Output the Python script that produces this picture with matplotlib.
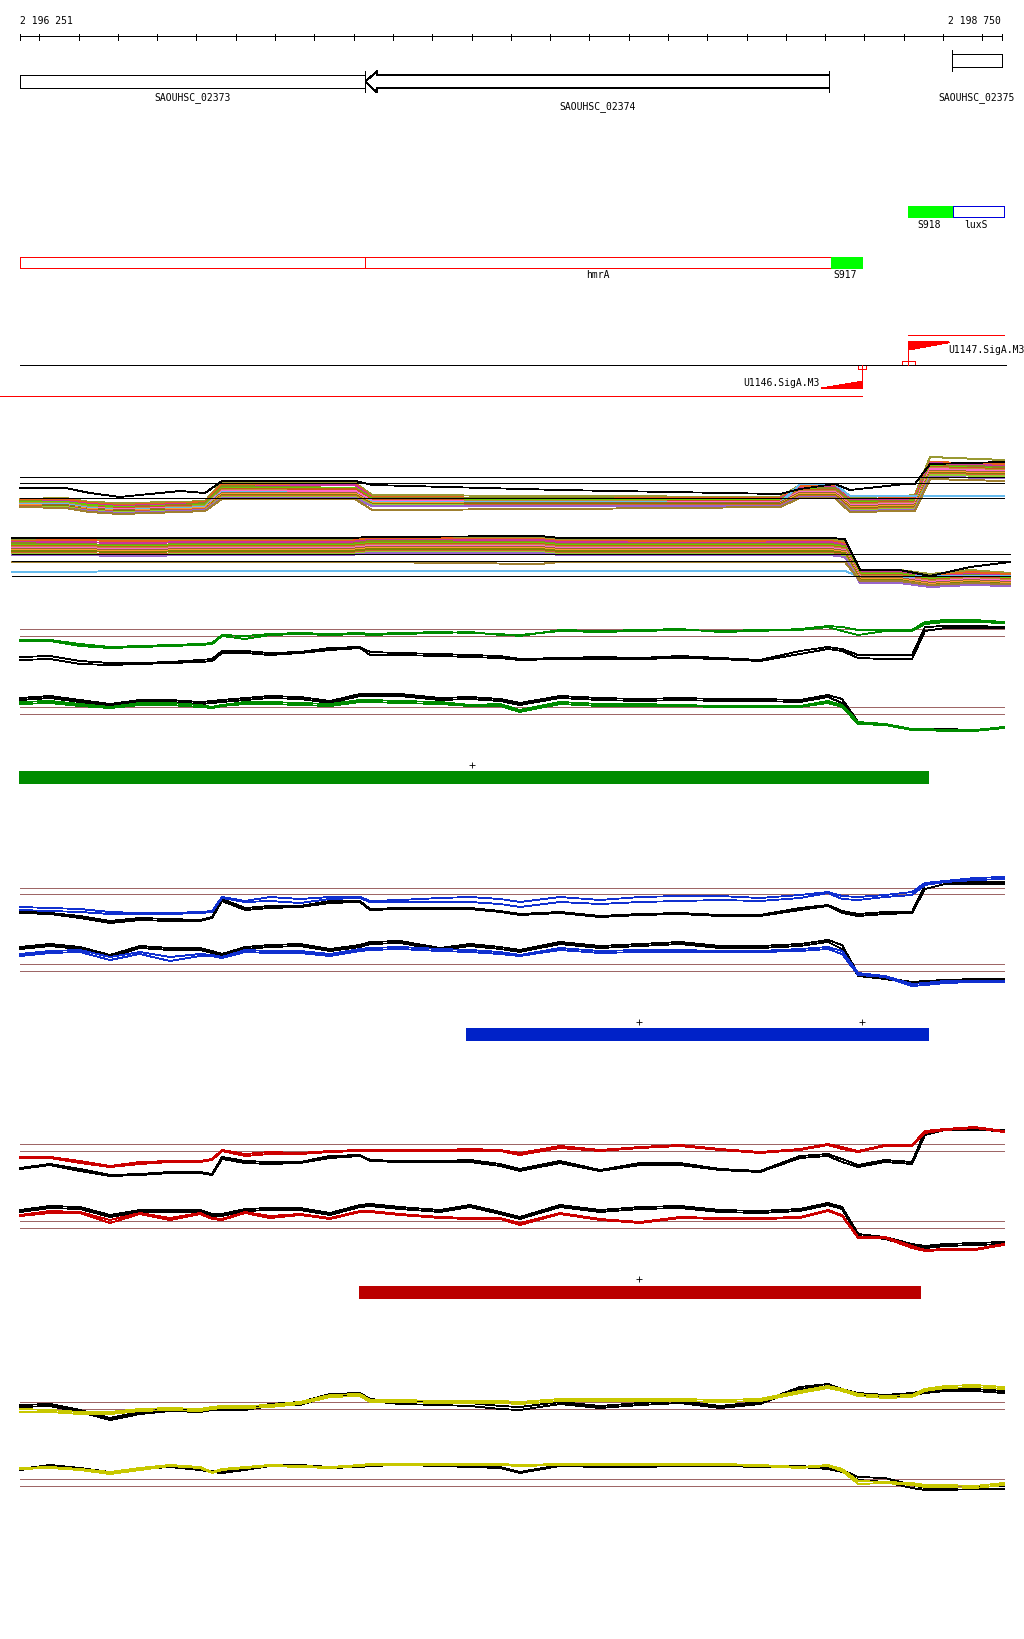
import matplotlib
matplotlib.use("Agg")
import matplotlib.pyplot as plt
from matplotlib.patches import Rectangle, Polygon

# ---------------- data ----------------
START, END = 2196251, 2198750
ruler_labels = ["2 196 251", "2 198 750"]
tick_step = 100

gene_names = ["SAOUHSC_02373", "SAOUHSC_02374", "SAOUHSC_02375"]
gene_starts = [2196251, 2197130, 2198623]
gene_ends = [2197130, 2198311, 2198750]

feat_names = ["S918", "luxS", "hmrA", "S917"]
feat_starts = [2198511, 2198626, 2196251, 2198314]
feat_ends = [2198626, 2198754, 2198314, 2198394]
hmra_split = 2197130

prom_names = ["U1147.SigA.M3", "U1146.SigA.M3"]
prom_tss = [2198512, 2198393]
prom_strand = ["+", "-"]
prom_box_lo = [2198496, 2198384]
prom_box_hi = [2198529, 2198403]
fwd_tx = (2198511, 2198754)
rev_tx = (2196200, 2198394)

bar_starts = [2196251, 2197389, 2197116]
bar_ends = [2198562, 2198562, 2198541]
bar_plus = [[2197401], [2197826, 2198394], [2197826]]

probe_offsets = [0, 76, 153, 229, 305, 382, 458, 489, 514, 573, 636, 713, 789, 865, 891,
                 967, 1069, 1145, 1222, 1272, 1374, 1476, 1578, 1680, 1781, 1883, 1985,
                 2056, 2092, 2133, 2201, 2270, 2303, 2354, 2430, 2504]

g1_green_a = [29,29,25,22,23,24,25,26,34,33,35,36,35,36,35,36,37,36,35,33,39,38,39,40,37,38,40,43,42,39,39,39,47,49,49,47]
g1_green_b = [28,28,23,21,22,23,24,25,33,30,34,35,34,35,34,35,36,37,34,34,38,37,38,39,38,39,39,42,38,34,38,38,45,47,47,46]
g1_black_a = [12,13,8,6,6,7,9,10,18,18,16,17,21,22,17,16,15,14,13,10,11,12,11,13,11,9,18,22,20,14,14,14,42,43,43,42]
g1_black_b = [9,10,5,4,5,6,7,8,16,16,14,16,19,21,14,14,13,12,11,9,10,10,10,11,10,8,15,20,18,11,10,10,38,41,41,41]

g2_black_a = [36,38,34,30,34,34,32,33,34,36,38,37,33,40,40,40,36,37,35,31,38,36,35,36,35,35,34,39,35,12,10,5,5,5,4,7]
g2_black_b = [34,36,32,28,32,32,30,31,32,34,36,35,31,38,38,38,34,35,33,29,36,34,33,34,33,33,32,37,31,11,9,4,4,4,3,6]
g2_green_a = [32,33,30,27,31,31,29,27,29,32,32,31,30,34,34,33,32,29,30,24,32,30,30,29,28,28,28,33,29,12,10,5,5,4,4,7]
g2_green_b = [30,31,28,26,29,29,27,26,28,30,30,29,28,32,32,31,30,28,28,22,30,28,28,28,27,27,27,31,27,10,9,4,4,3,3,6]

b1_blue_a = [22,21,20,17,16,16,17,18,32,28,32,30,32,32,28,29,31,32,30,27,32,29,32,33,33,31,34,37,33,32,34,37,46,48,51,52]
b1_blue_b = [19,18,17,15,15,15,16,17,31,27,28,26,30,31,27,27,27,27,25,22,27,25,27,28,29,28,31,36,30,29,32,34,44,47,49,50]
b1_black_a = [18,16,13,8,11,10,9,12,30,21,23,23,28,28,20,21,21,21,18,15,17,13,15,16,14,14,21,24,18,15,17,17,44,47,47,47]
b1_black_b = [16,15,11,6,9,8,8,11,28,19,21,22,26,27,19,20,20,20,17,14,16,12,14,15,13,13,19,23,16,13,15,16,40,45,45,45]

b2_black_a = [42,45,42,34,43,41,41,38,35,42,44,45,40,44,47,48,41,45,42,39,47,43,45,47,43,43,45,49,44,15,11,7,8,9,10,10]
b2_black_b = [40,43,40,32,41,39,39,36,33,40,42,43,38,42,45,46,39,43,40,37,45,41,43,45,41,41,43,47,40,13,10,6,7,8,8,9]
b2_blue_a = [35,38,39,32,37,32,35,34,32,39,38,38,35,40,41,42,40,39,37,34,41,38,39,39,38,38,40,42,38,16,13,5,6,8,8,8]
b2_blue_b = [33,36,37,29,35,28,33,33,31,37,36,36,33,38,39,40,38,37,35,33,39,36,37,37,37,37,38,40,35,14,12,3,4,6,7,7]

r1_red_a = [22,22,18,13,17,18,18,20,29,25,27,26,28,29,29,29,29,30,29,26,33,29,32,34,30,27,30,35,32,28,34,34,48,50,52,48]
r1_red_b = [21,21,16,12,15,17,17,19,28,23,25,25,27,28,28,28,28,28,28,24,31,28,31,33,29,26,29,34,30,27,33,33,46,49,51,47]
r1_black_a = [11,15,10,4,5,7,7,5,22,18,17,17,23,24,19,18,18,19,15,10,18,9,16,16,10,8,23,25,20,14,19,17,48,50,50,49]
r1_black_b = [10,14,8,3,4,6,6,4,20,16,15,16,21,23,18,17,17,17,13,8,16,8,14,14,9,7,21,23,17,12,17,15,44,49,49,48]

r2_black_a = [44,48,47,39,44,44,44,40,40,45,46,46,41,49,50,47,44,49,42,37,49,44,47,48,44,43,45,51,47,20,17,10,8,10,11,12]
r2_black_b = [42,46,45,37,42,42,42,38,38,43,44,44,39,47,48,45,42,47,40,35,47,42,45,46,42,41,43,49,45,18,15,8,6,8,9,10]
r2_red_a = [39,43,42,34,41,36,41,36,35,42,38,40,36,43,43,40,37,36,36,31,41,35,32,37,36,36,37,44,39,17,17,8,4,5,5,10]
r2_red_b = [38,41,41,31,40,34,40,35,34,41,36,39,35,42,42,39,36,35,35,29,40,34,31,36,35,35,36,43,38,16,16,6,3,4,4,9]

y1_black_a = [19,20,14,6,12,15,14,16,16,16,20,22,30,31,25,22,22,21,18,17,22,18,21,23,18,22,37,40,35,31,29,31,33,35,35,33]
y1_black_b = [17,18,12,4,10,13,12,14,14,14,18,19,28,29,23,20,19,18,15,14,20,16,19,21,16,20,35,38,33,29,27,29,31,33,33,31]
y1_yellow_a = [15,14,12,12,15,16,15,17,18,18,19,22,29,30,24,24,23,23,23,22,25,25,25,25,24,25,33,38,35,30,28,29,35,38,39,37]
y1_yellow_b = [12,12,10,10,13,14,13,15,16,16,17,20,27,28,22,22,21,21,21,20,23,23,23,23,22,23,31,36,33,28,26,27,33,36,37,35]

y2_black_a = [25,29,26,22,26,28,25,23,22,25,29,29,27,28,29,30,29,28,27,22,29,28,28,29,29,28,28,26,24,17,16,9,6,6,7,8]
y2_black_b = [24,28,25,21,25,27,24,22,21,24,28,28,26,27,28,29,28,27,26,21,28,27,27,28,28,27,27,25,22,14,12,6,4,4,5,5]
y2_yellow_a = [26,27,25,22,26,29,27,22,25,27,29,28,27,29,30,30,30,30,30,29,30,30,30,30,30,29,27,29,25,13,12,11,9,9,8,11]
y2_yellow_b = [25,26,24,20,24,28,26,21,24,26,28,27,26,28,29,29,29,29,29,28,29,29,29,29,29,28,26,28,23,10,11,9,7,7,6,9]

thr_g1, thr_g2 = [39.7, 32.7], [26.7, 19.7]
thr_b1, thr_b2 = [41.3, 34.7], [24.7, 17.7]
thr_r1, thr_r2 = [34.7, 27.7], [32.7, 25.7]
thr_y1, thr_y2 = [21.7, 14.7], [14.7, 7.7]

# all-conditions panel (upper / lower strand)
bandA_offsets = [0, 115, 178, 254, 407, 471, 514, 853, 896, 1374, 1934, 1985, 2074, 2112, 2252, 2277, 2316, 2504]
bandA_series = [
    [20,21,17,16,17,18,37,36,24,23,22,34,35,22,23,24,62,59],
    [19,20,16,14,16,17,35,35,22,21,21,33,33,20,21,22,57,55],
    [18,18,15,13,15,15,33,34,21,20,20,31,32,19,19,20,56,53],
    [18,17,13,12,14,16,33,31,21,21,19,30,31,18,18,19,54,52],
    [17,17,14,12,13,14,31,31,20,19,19,30,29,17,17,18,53,50],
    [16,16,12,11,13,13,30,30,19,18,18,29,29,16,17,17,52,50],
    [16,16,12,10,12,13,29,28,18,18,17,28,28,15,16,16,51,49],
    [15,15,11,10,11,12,28,28,18,17,17,27,27,14,15,15,50,48],
    [15,15,11,9,11,12,27,26,17,17,16,35,35,23,23,23,23,23],
    [14,14,10,9,10,11,26,26,16,16,16,26,26,13,14,14,48,47],
    [14,13,10,8,10,11,25,25,16,15,15,25,25,12,13,13,47,46],
    [13,13,9,8,9,10,24,24,15,15,15,24,24,11,12,12,46,45],
    [13,12,9,7,9,10,23,23,14,14,14,23,23,10,11,11,45,44],
    [12,12,8,7,8,9,22,22,14,13,13,22,22,9,10,10,44,43],
    [12,11,8,6,8,9,21,21,13,13,13,22,22,8,9,9,42,41],
    [12,11,7,5,7,8,20,20,9,10,12,21,21,7,8,8,40,38],
]
bandA_black = [31,31,26,22,28,26,38,38,34,29,25,30,35,29,35,35,55,57]
bandA_thr = [42, 36, 21]

bandB_offsets = [-20, 102, 293, 458, 840, 891, 1323, 1374, 1730, 2061, 2099, 2138, 2239, 2316, 2418, 2519]
bandB_series = [
    [52,52,51,52,52,54,54,52,52,52,50,21,21,17,21,18],
    [50,51,50,50,50,53,52,50,50,50,48,20,20,15,19,17],
    [49,49,48,49,49,51,51,49,48,49,46,19,19,14,17,15],
    [48,47,46,47,47,50,49,47,47,47,45,18,18,13,16,14],
    [46,46,45,46,46,48,48,46,46,46,44,17,17,12,15,13],
    [45,45,44,45,45,47,47,45,45,45,43,16,16,11,14,12],
    [44,44,43,44,44,46,46,44,44,44,42,15,15,10,13,11],
    [43,43,42,43,43,45,45,43,43,43,41,14,14,9,12,10],
    [19,19,20,20,20,20,20,20,20,20,20,14,14,15,15,15],
    [42,42,41,42,42,44,44,42,42,42,40,13,13,8,11,9],
    [41,41,40,41,41,43,43,41,41,41,39,12,12,7,10,8],
    [40,40,39,40,40,42,42,40,40,40,38,11,11,6,9,7],
    [38,38,37,38,38,40,40,38,38,38,36,10,10,5,8,6],
    [37,37,36,37,37,39,39,37,37,37,35,9,9,5,7,6],
    [36,36,35,36,36,38,38,36,36,36,34,8,8,4,6,5],
    [29,29,29,29,29,29,27,29,29,29,29,10,10,6,8,7],
]
bandB_black = [53,53,53,53,53,54,55,53,53,53,52,21,21,15,24,29]
bandB_thr = [37, 30, 15]

# ---------------- styles / layout ----------------
plt.rcParams["lines.antialiased"] = False
plt.rcParams["patch.antialiased"] = False
W, H = 1024, 1640
PX0, PX1 = 20, 1002
BPP = (END - START) / (PX1 - PX0)
XL = START - PX0 * BPP
XR = START + (W - PX0) * BPP
FONT = dict(family="DejaVu Sans Mono", fontsize=7, color="black")
band_colors = ["#999933", "#E8601C", "#CC3399", "#8A8A20", "#66CC00", "#CC5522",
               "#C09040", "#FF66CC", "#66BBEE", "#996633", "#FF9933", "#808000",
               "#D06030", "#99CC33", "#9966CC", "#A08030"]
THR_COLOR = "#9E6666"
LW = 0.6

fig = plt.figure(figsize=(W / 100, H / 100), dpi=100)
ann = fig.add_axes([0, 0, 1, 1])
ann.set_xlim(XL, XR)
ann.set_ylim(H, 0)
ann.axis("off")

# ruler
ann.hlines(37, START, END, color="black", lw=LW)
ticks = [START] + list(range((START // tick_step + 1) * tick_step, END, tick_step)) + [END]
ann.vlines(ticks, 34.5, 40.5, color="black", lw=LW)
ann.text(START, 20.5, ruler_labels[0], ha="left", va="center", **FONT)
ann.text(END - 1 * BPP, 20.5, ruler_labels[1], ha="right", va="center", **FONT)

# genes
s0, e0 = gene_starts[0], gene_ends[0]
ann.add_patch(Rectangle((s0, 76.3), e0 - s0, 13, fill=False, ec="black", lw=LW))
s1, e1 = gene_starts[1], gene_ends[1]
head = 11.5 * BPP
ann.add_patch(Polygon([(s1, 82.8), (s1 + head, 72), (s1 + head, 76.3), (e1, 76.3),
                       (e1, 89.3), (s1 + head, 89.3), (s1 + head, 93.3)],
                      closed=True, fill=False, ec="black", lw=LW))
ann.vlines([s1, e1], 72, 93.3, color="black", lw=LW)
s2, e2 = gene_starts[2], gene_ends[2]
ann.add_patch(Rectangle((s2, 55.3), e2 - s2, 13, fill=False, ec="black", lw=LW))
ann.vlines(s2, 51, 72, color="black", lw=LW)
ann.text((s0 + e0) / 2, 98, gene_names[0], ha="center", va="center", **FONT)
ann.text((s1 + e1) / 2, 106.5, gene_names[1], ha="center", va="center", **FONT)
ann.text((s2 + e2) / 2, 97.5, gene_names[2], ha="center", va="center", **FONT)

# features
ann.add_patch(Rectangle((feat_starts[0], 207), feat_ends[0] - feat_starts[0], 10.7,
                        fc="#00FF00", ec="#00FF00", lw=LW))
ann.add_patch(Rectangle((feat_starts[1], 207), feat_ends[1] - feat_starts[1], 10.7,
                        fill=False, ec="#0000DD", lw=LW))
ann.text((feat_starts[0] + feat_ends[0]) / 2 - 2 * BPP, 224.5, feat_names[0], ha="center", va="center", **FONT)
ann.text((feat_starts[1] + feat_ends[1]) / 2 - 2 * BPP, 224.5, feat_names[1], ha="center", va="center", **FONT)
ann.add_patch(Rectangle((feat_starts[2], 258.3), feat_ends[2] - feat_starts[2], 10.3,
                        fill=False, ec="#FF0000", lw=LW))
ann.vlines(hmra_split, 258.3, 268.6, color="#FF0000", lw=LW)
ann.add_patch(Rectangle((feat_starts[3], 258.3), feat_ends[3] - feat_starts[3], 10.3,
                        fc="#00FF00", ec="#00FF00", lw=LW))
ann.text((hmra_split + feat_ends[2]) / 2, 275.5, feat_names[2], ha="center", va="center", **FONT)
ann.text((feat_starts[3] + feat_ends[3]) / 2 - 1 * BPP, 275.5, feat_names[3], ha="center", va="center", **FONT)

# promoters
ann.hlines(366, START, END + 4 * BPP, color="black", lw=LW)
ann.hlines(336, fwd_tx[0], fwd_tx[1], color="#FF0000", lw=LW)
ann.hlines(397.3, rev_tx[0], rev_tx[1], color="#FF0000", lw=LW)
flag = 40.5 * BPP
for name, tss, strand, lo, hi in zip(prom_names, prom_tss, prom_strand, prom_box_lo, prom_box_hi):
    if strand == "+":
        ann.vlines(tss, 343.3, 366, color="#FF0000", lw=LW)
        ann.add_patch(Polygon([(tss, 343.3), (tss + flag, 343.3), (tss, 350.7)],
                              closed=True, fc="#FF0000", ec="#FF0000", lw=0.5))
        ann.add_patch(Rectangle((lo, 362), hi - lo, 4, fill=False, ec="#FF0000", lw=LW))
        ann.text(tss + flag - 1 * BPP, 350, name, ha="left", va="center", **FONT)
    else:
        ann.vlines(tss, 366, 389.3, color="#FF0000", lw=LW)
        ann.add_patch(Polygon([(tss, 389.3), (tss - flag, 389.3), (tss, 382.7)],
                              closed=True, fc="#FF0000", ec="#FF0000", lw=0.5))
        ann.add_patch(Rectangle((lo, 366), hi - lo, 4.3, fill=False, ec="#FF0000", lw=LW))
        ann.text(tss - flag - 1.5 * BPP, 383.5, name, ha="right", va="center", **FONT)

# bars
bar_colors = ["#008C00", "#0022C8", "#BB0000"]
bar_tops = [773, 1030, 1288]
plus_y = [766, 1023.3, 1280.3]
for c, s, e, top, pl, py in zip(bar_colors, bar_starts, bar_ends, bar_tops, bar_plus, plus_y):
    ann.add_patch(Rectangle((s, top), e - s, 10.5, fc=c, ec=c, lw=0.3))
    ann.plot(pl, [py] * len(pl), ls="none", marker="+", ms=4.5, mew=0.6, color="black")


def track(base, height):
    ax = fig.add_axes([0, 1 - base / H, 1, height / H])
    ax.set_xlim(XL, XR)
    ax.set_ylim(0, height)
    ax.axis("off")
    return ax


pos = [START + o for o in probe_offsets]
thr_lo, thr_hi = START, START + 2504


def profile_track(base, height, thr, lines):
    ax = track(base, height)
    ax.hlines(thr, thr_lo, thr_hi, color=THR_COLOR, lw=LW, zorder=1)
    for vals, col in lines:
        ax.plot(pos, vals, color=col, lw=LW, zorder=2, clip_on=False)


GREEN, BLUE, RED, YEL = "#008C00", "#1030D0", "#CC0000", "#C8C800"
profile_track(670, 55, thr_g1, [(g1_black_a, "black"), (g1_black_b, "black"),
                                (g1_green_a, GREEN), (g1_green_b, GREEN)])
profile_track(735, 45, thr_g2, [(g2_black_a, "black"), (g2_black_b, "black"),
                                (g2_green_a, GREEN), (g2_green_b, GREEN)])
profile_track(930, 60, thr_b1, [(b1_black_a, "black"), (b1_black_b, "black"),
                                (b1_blue_a, BLUE), (b1_blue_b, BLUE)])
profile_track(990, 55, thr_b2, [(b2_black_a, "black"), (b2_black_b, "black"),
                                (b2_blue_a, BLUE), (b2_blue_b, BLUE)])
profile_track(1180, 60, thr_r1, [(r1_black_a, "black"), (r1_black_b, "black"),
                                 (r1_red_a, RED), (r1_red_b, RED)])
profile_track(1255, 60, thr_r2, [(r2_black_a, "black"), (r2_black_b, "black"),
                                 (r2_red_a, RED), (r2_red_b, RED)])
profile_track(1425, 45, thr_y1, [(y1_black_a, "black"), (y1_black_b, "black"),
                                 (y1_yellow_a, YEL), (y1_yellow_b, YEL)])
profile_track(1495, 40, thr_y2, [(y2_black_a, "black"), (y2_black_b, "black"),
                                 (y2_yellow_a, YEL), (y2_yellow_b, YEL)])

# multi-condition panels
axA = track(520, 70)
posA = [START + o for o in bandA_offsets]
axA.hlines(bandA_thr, START, START + 2504, color="black", lw=LW, zorder=3)
for vals, col in zip(bandA_series, band_colors):
    axA.plot(posA, vals, color=col, lw=0.7, clip_on=False)
axA.plot(posA, bandA_black, color="black", lw=LW, clip_on=False)

axB = track(592, 62)
posB = [START + o for o in bandB_offsets]
axB.hlines(bandB_thr, START - 20, START + 2519, color="black", lw=LW, zorder=3)
for vals, col in zip(bandB_series, band_colors):
    axB.plot(posB, vals, color=col, lw=0.7, clip_on=False)
axB.plot(posB, bandB_black, color="black", lw=LW, clip_on=False)

fig.savefig("out.png", dpi=100)
